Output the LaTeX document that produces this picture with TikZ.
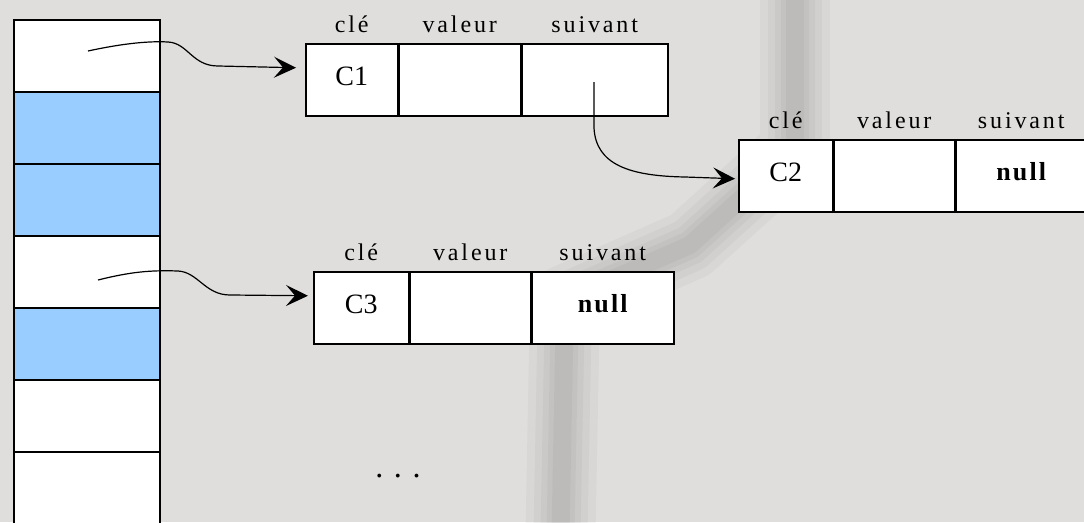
\documentclass[tikz,border=0pt]{standalone}
\usepackage{fontspec}
\setmainfont{Liberation Serif}
\newfontfamily\headfont[LetterSpace=12]{Liberation Serif}
\newfontfamily\nilfont[LetterSpace=8]{Liberation Serif}
\usetikzlibrary{arrows.meta}
\definecolor{paper}{HTML}{DFDEDC}
\definecolor{slot}{HTML}{99CCFF}

\begin{document}
\begin{tikzpicture}[x=1pt,y=-1pt,line width=1.5pt]
    %
    % `cell' is one slot of the table on the left.
    % `field' is one part of a list element, `head' the name above it.
    % `link' is a pointer to the next element.
    \tikzstyle{cell} = [draw,fill=white,anchor=north west,inner sep=0pt,minimum width=146pt,minimum height=72pt]
    \tikzstyle{field} = [draw,fill=white,anchor=north west,inner sep=0pt,minimum height=72pt,text depth=8pt,font=\fontsize{28}{30}\selectfont]
    \tikzstyle{nilfield} = [field,font=\nilfont\bfseries\fontsize{26}{28}\selectfont]
    \tikzstyle{head} = [anchor=base,font=\headfont\fontsize{24}{26}\selectfont]
    \tikzstyle{link} = [line width=1.2pt,-{Stealth[length=22pt,width=21pt,inset=9pt]}]
    \tikzstyle{shade} = [black,opacity=0.03,line join=round,line cap=round]
    %
    % Background
    \fill[paper] (0,0) rectangle (1084,522);
    \useasboundingbox (0,0) rectangle (1084,522);
    \foreach \w in {70,54,40,28,18}
        \draw[shade,line width=\w pt] (795,-40) -- (795,150) -- (690,245) -- (565,300) -- (560,560);
    %
    % Table
    \foreach \c [count=\i from 0] in {white,slot,slot,white,slot,white,white}
        \node[cell,fill=\c] (t\i) at (13,{19+72*\i}) {};
    %
    % Element C1
    \node[field,minimum width=92pt] (k1) at (305,43) {C1};
    \node[field,minimum width=121pt] (v1) at (k1.north east) {};
    \node[field,minimum width=146pt] (s1) at (v1.north east) {};
    \node[head] (hk1) at ([yshift=11pt]k1.north) {clé};
    \node[head] (hv1) at ([yshift=11pt]v1.north) {valeur};
    \node[head] (hs1) at ([yshift=11pt]s1.north) {suivant};
    %
    % Element C2
    \node[field,minimum width=94pt] (k2) at (738,139) {C2};
    \node[field,minimum width=120pt] (v2) at (k2.north east) {};
    \node[nilfield,minimum width=131pt] (s2) at (v2.north east) {null};
    \node[head] (hk2) at ([yshift=11pt]k2.north) {clé};
    \node[head] (hv2) at ([yshift=11pt]v2.north) {valeur};
    \node[head] (hs2) at ([yshift=11pt]s2.north) {suivant};
    %
    % Element C3
    \node[field,minimum width=95pt] (k3) at (313,271) {C3};
    \node[field,minimum width=120pt] (v3) at (k3.north east) {};
    \node[nilfield,minimum width=142pt] (s3) at (v3.north east) {null};
    \node[head] (hk3) at ([yshift=11pt]k3.north) {clé};
    \node[head] (hv3) at ([yshift=11pt]v3.north) {valeur};
    \node[head] (hs3) at ([yshift=11pt]s3.north) {suivant};
    %
    % Links
    \coordinate (p1) at (88,51);
    \coordinate (p2) at (594,82);
    \coordinate (p3) at (98,280);
    \draw[link] (p1) .. controls (125,43) and (150,41) .. (168,42) .. controls (188,43) and (192,66) .. (218,66) -- ([xshift=-9pt,yshift=12pt]k1.west);
    \draw[link] (p2) -- (594,128) .. controls (596,165) and (630,176) .. (685,177) -- ([xshift=-3pt,yshift=-3pt]k2.west);
    \draw[link] (p3) .. controls (130,272) and (150,270) .. (178,271) .. controls (198,272) and (205,295) .. (230,295) -- ([xshift=-5pt,yshift=12pt]k3.west);
    %
    % More slots
    \node[anchor=base,font=\fontsize{32}{34}\selectfont] (more) at (398,477) {.\,\,.\,\,.};
\end{tikzpicture}
\end{document}
